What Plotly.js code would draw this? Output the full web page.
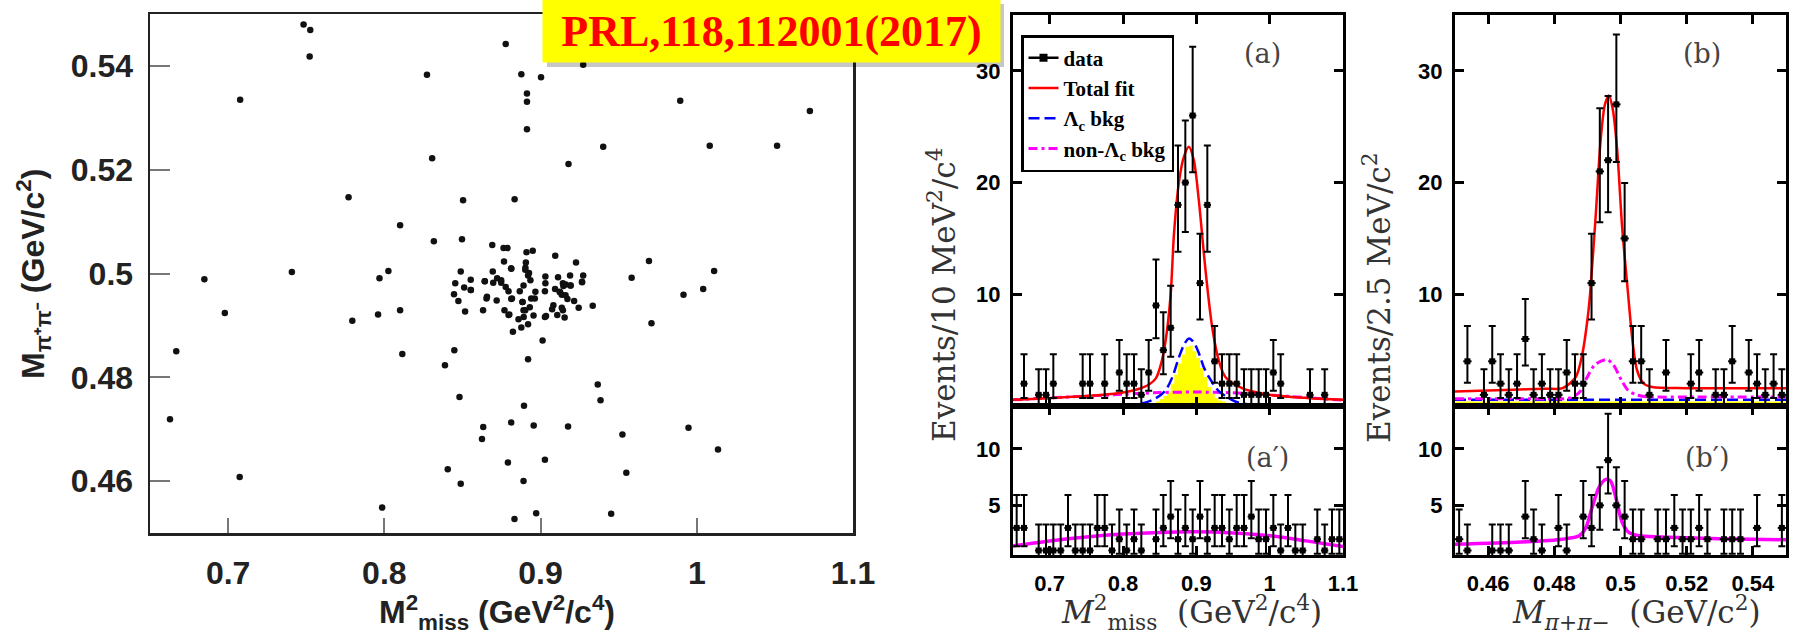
<!DOCTYPE html>
<html>
<head>
<meta charset="utf-8">
<script src="https://cdn.plot.ly/plotly-3.0.1.min.js"></script>
<style>
html,body{margin:0;padding:0;background:#fff;}
#chart{width:1793px;height:634px;}
</style>
</head>
<body>
<div id="chart"></div>
<script>
// ---------------- Left: scatter M2miss vs M(pi+pi-) ----------------
const scatterX = [0.7483,0.7526,0.7522,0.8777,0.8273,0.8877,0.9003,0.9273,0.7077,0.8913,0.8913,0.8913,0.9894,1.0724,0.8306,0.9401,1.0083,1.0514,0.9179,0.7771,0.8504,0.8834,0.8101,0.8317,0.8497,
0.8691,0.8763,0.8788,0.8910,0.8950,0.9094,0.9227,0.9694,0.8766,0.8906,0.8489,0.8694,0.8813,0.8902,0.8026,0.7408,0.7969,0.6848,1.0111,0.9583,0.9112,0.9273,0.8553,0.8643,0.8722,0.8748,0.8920,0.8935,0.9265,0.9161,
0.9146,0.9193,0.8454,0.8511,0.8553,0.8446,0.8697,0.8777,0.8795,0.8867,0.8967,0.9028,0.9093,0.9122,0.9136,0.9172,0.9915,1.0041,0.8654,0.8719,0.8812,0.8884,0.8963,0.8474,0.8517,0.8632,0.8769,0.8902,0.8931,0.9082,
0.9136,0.9215,0.9244,0.9334,0.8795,0.8892,0.9028,0.9107,0.9154,0.8859,0.8920,0.8877,0.8823,0.9013,0.8920,0.8101,0.7960,0.6979,0.7795,0.9710,0.6668,0.8448,0.8115,0.8388,0.9366,0.9384,0.8481,0.8894,0.6628,0.8812,
0.8956,0.9176,0.8633,0.8625,0.9947,0.9524,1.0136,0.9028,0.8791,0.8406,0.9549,0.7074,0.8891,0.8489,0.7986,0.8972,0.9452,0.8833,
0.8811,0.8903,0.8926,0.9031,0.9189,0.8643,0.8748,0.8891,0.9031,0.9143,0.9191,0.9266,0.8554,0.8657,0.8817,0.8885,0.8940,0.9125,0.9160,0.8891,0.8955,0.9074,0.9143,0.8800,0.9035];
const scatterY = [0.5480,0.5469,0.5418,0.5442,0.5383,0.5384,0.5378,0.5402,0.5335,0.5347,0.5331,0.5278,0.5333,0.5313,0.5222,0.5244,0.5246,0.5246,0.5211,0.5147,0.5141,0.5143,0.5093,0.5062,0.5066,
0.5055,0.5049,0.5049,0.5041,0.5044,0.5034,0.5021,0.5024,0.5023,0.5021,0.5004,0.5004,0.5009,0.5007,0.5005,0.5003,0.4991,0.4989,0.5005,0.4992,0.4993,0.4996,0.4988,0.4985,0.4991,0.4987,0.4996,0.4987,0.4984,0.4979,
0.4976,0.4977,0.4981,0.4973,0.4968,0.4960,0.4982,0.4974,0.4966,0.4966,0.4965,0.4966,0.4970,0.4965,0.4959,0.4951,0.4959,0.4970,0.4952,0.4948,0.4951,0.4945,0.4952,0.4947,0.4927,0.4929,0.4929,0.4929,0.4935,0.4939,
0.4934,0.4947,0.4934,0.4938,0.4920,0.4916,0.4916,0.4920,0.4915,0.4912,0.4902,0.4896,0.4888,0.4871,0.4835,0.4929,0.4921,0.4924,0.4909,0.4904,0.4850,0.4852,0.4845,0.4823,0.4786,0.4756,0.4762,0.4745,0.4719,0.4713,
0.4707,0.4705,0.4704,0.4681,0.4703,0.4690,0.4661,0.4641,0.4636,0.4623,0.4616,0.4608,0.4600,0.4595,0.4549,0.4538,0.4537,0.4527,
0.5010,0.5011,0.5001,0.4994,0.4996,0.4985,0.4982,0.4977,0.4981,0.4981,0.4977,0.4983,0.4968,0.4955,0.4952,0.4945,0.4952,0.4964,0.4958,0.4929,0.4919,0.4931,0.4929,0.4921,0.4918];

// ---------------- Histogram counts ----------------
// (a) M2miss, 10 MeV^2 bins from 0.65 to 1.10
const aBinLo = 0.65, aBinW = 0.01;
const aCounts      = [0,2,0,1,1,2,0,0,0,2,2,0,2,0,3,2,2,1,3,9,5,7,18,20,26,11,18,4,2,2,2,1,1,1,1,3,2,0,0,0,1,0,1,0,0];
const aPrimeCounts = [3,3,0,1,1,1,1,3,1,1,1,3,3,1,2,1,2,1,0,2,3,4,2,3,2,4,2,3,3,2,3,3,4,2,2,3,1,3,1,1,0,2,1,2,2];
// (b) M(pi+pi-), 2.5 MeV bins from 0.45 to 0.55
const bBinLo = 0.45, bBinW = 0.0025;
const bCounts      = [0,4,0,1,4,2,1,2,6,1,2,1,1,3,2,2,11,21,22,27,15,4,4,1,0,3,0,0,2,3,0,1,1,4,0,3,2,1,2,1];
const bPrimeCounts = [2,1,0,0,1,1,1,0,4,2,1,0,3,1,0,4,3,5,9,5,4,2,2,0,2,2,3,2,2,3,2,0,2,2,2,0,3,0,0,3];

// Poisson (Garwood 68.3%) interval table, index = count
const poissonLo = [0,0.173,0.708,1.367,2.086,2.840,3.620,4.419,5.232,6.057,6.891,7.734,8.585,9.441,10.30,11.17,12.04,12.92,13.80,14.68,15.57,16.45,17.35,18.24,19.14,20.03,20.93,21.84];
const poissonHi = [1.841,3.300,4.638,5.918,7.163,8.382,9.584,10.77,11.95,13.11,14.27,15.42,16.56,17.70,18.83,19.96,21.08,22.20,23.32,24.44,25.55,26.66,27.76,28.87,29.97,31.07,32.16,33.26];

// ---------------- Fit curves ----------------
const aTotalX = [0.65,0.69,0.73,0.77,0.80,0.82,0.835,0.845,0.852,0.858,0.865,0.8695,0.8762,0.883,0.8898,0.8966,0.9034,0.9102,0.916,0.9215,0.9305,0.9396,0.9622,0.98,1.0,1.03,1.06,1.1];
const aTotalY = [0.55,0.68,0.82,0.98,1.2,1.5,1.9,2.5,3.8,5.8,10,15.4,20,22.3,23.2,22,18.4,13.7,10,7.1,4.1,2.6,1.6,1.25,1.0,0.8,0.68,0.55];
const aLcX = [0.65,0.76,0.80,0.827,0.845,0.858,0.8674,0.8765,0.884,0.89,0.8966,0.9036,0.91,0.917,0.924,0.931,0.942,0.953,0.97,0.99,1.1];
const aLcY = [0.02,0.03,0.1,0.25,0.7,1.4,2.6,4.4,5.6,6.05,5.7,4.7,3.5,2.6,1.9,1.3,0.8,0.4,0.15,0.05,0.02];
const aNonX = [0.65,0.7,0.75,0.8,0.85,0.9,0.95,1.0,1.05,1.1];
const aNonY = [0.55,0.72,0.88,1.05,1.2,1.25,1.18,0.98,0.75,0.52];
const aMcX = [0.8375,0.8425,0.8475,0.8525,0.8575,0.8625,0.8675,0.8725,0.8775,0.8825,0.8875,0.8925,0.8975,0.9025,0.9075,0.9125,0.9175,0.9225,0.9275,0.9325,0.9375,0.9425,0.9475,0.9525,0.9575,0.9625,0.9675];
const aMcY = [0,0.2,0.4,0.6,0.9,1.2,2.0,2.8,3.8,4.6,5.3,5.4,4.9,4.3,3.4,2.6,1.7,1.1,0.7,0.5,0.4,0.3,0.25,0.2,0.15,0.1,0];
const apNonX = [0.65,0.7,0.75,0.8,0.85,0.9,0.95,1.0,1.05,1.1];
const apNonY = [1.4,1.85,2.2,2.45,2.6,2.65,2.55,2.3,1.85,1.35];

const bTotalX = [0.45,0.4675,0.4775,0.4825,0.4865,0.4885,0.490,0.4908,0.4925,0.494,0.4953,0.4965,0.4977,0.499,0.5005,0.5023,0.5036,0.505,0.507,0.5096,0.52,0.55];
const bTotalY = [1.3,1.45,1.55,1.6,2.6,4.7,7.7,10,17,23.8,27,27.8,26.5,22.9,16,10,5.9,3.2,2.0,1.7,1.6,1.6];
const bNonX = [0.45,0.47,0.485,0.4878,0.4898,0.4923,0.4959,0.4978,0.5003,0.5023,0.5048,0.5078,0.52,0.55];
const bNonY = [0.65,0.65,0.75,1.3,2.5,3.7,4.15,3.7,2.3,1.4,1.0,0.83,0.8,0.8];
const bLcX = [0.45,0.55];
const bLcY = [0.55,0.55];
const bMcX = [0.45,0.55];
const bMcY = [0.4,0.4];
const bpNonX = [0.45,0.47,0.4825,0.4875,0.4895,0.4915,0.4935,0.4955,0.497,0.4985,0.5005,0.5025,0.5055,0.5125,0.53,0.55];
const bpNonY = [1.55,1.75,2.0,2.3,3.0,4.9,6.6,7.3,7.15,5.8,3.5,2.6,2.3,2.2,2.05,1.95];

// ---------------- Helpers ----------------
function histTrace(counts, lo, w, xa, ya){
  const x=[], y=[], up=[], dn=[];
  counts.forEach((n,i)=>{
    if(n>0){ x.push(lo + w*(i+0.5)); y.push(n); up.push(poissonHi[n]-n); dn.push(n-poissonLo[n]); }
  });
  return {type:'scatter', mode:'markers', x, y, xaxis:xa, yaxis:ya, showlegend:false,
    marker:{symbol:'square', size:6, color:'black'},
    error_y:{type:'data', symmetric:false, array:up, arrayminus:dn, color:'black', thickness:2, width:3.5},
    error_x:{type:'constant', value:w/2, color:'black', thickness:2, width:0}, cliponaxis:false};
}
function curve(x,y,xa,ya,color,width,dash,extra){
  return Object.assign({type:'scatter', mode:'lines', x, y, xaxis:xa, yaxis:ya, showlegend:false,
    line:{color, width, dash, shape:'spline', smoothing:0.8}}, extra||{});
}
function mcFill(x,y,xa,ya){
  return {type:'scatter', mode:'lines', x, y, xaxis:xa, yaxis:ya, showlegend:false,
    fill:'tozeroy', fillcolor:'#ffff00', line:{width:0, shape:'hvh', color:'#ffff00'}};
}
const MAG = '#ff00ff', RED = '#ff0000', BLUE = '#0000ff';
const dashDot = '9px,4px,3px,4px';
const longDash = '11px,5px';

const traces = [
  {type:'scatter', mode:'markers', x:scatterX, y:scatterY, xaxis:'x', yaxis:'y', showlegend:false,
   marker:{size:6.5, color:'#111'}},
  // (a)
  mcFill(aMcX,aMcY,'x2','y2'),
  curve(aNonX,aNonY,'x2','y2',MAG,3,dashDot,{showlegend:true, name:'<b>non-Λ<sub>c</sub> bkg</b>', legendrank:4}),
  curve(aLcX,aLcY,'x2','y2',BLUE,2.5,longDash,{showlegend:true, name:'<b>Λ<sub>c</sub> bkg</b>', legendrank:3}),
  curve(aTotalX,aTotalY,'x2','y2',RED,2.5,'solid',{showlegend:true, name:'<b>Total fit</b>', legendrank:2}),
  histTrace(aCounts,aBinLo,aBinW,'x2','y2'),
  {type:'scatter', mode:'lines+markers', x:[null], y:[null], xaxis:'x2', yaxis:'y2', name:'<b>data</b>', legendrank:1,
   line:{color:'black', width:2.5}, marker:{symbol:'square', size:8, color:'black'}},
  // (a')
  curve(apNonX,apNonY,'x3','y3',MAG,3.5,'solid'),
  histTrace(aPrimeCounts,aBinLo,aBinW,'x3','y3'),
  // (b)
  mcFill(bMcX,bMcY,'x4','y4'),
  curve(bLcX,bLcY,'x4','y4',BLUE,2.5,longDash,{line:{color:BLUE,width:2.5,dash:longDash}}),
  curve(bNonX,bNonY,'x4','y4',MAG,3,dashDot),
  curve(bTotalX,bTotalY,'x4','y4',RED,2.5,'solid'),
  histTrace(bCounts,bBinLo,bBinW,'x4','y4'),
  // (b')
  curve(bpNonX,bpNonY,'x5','y5',MAG,3.5,'solid'),
  histTrace(bPrimeCounts,bBinLo,bBinW,'x5','y5')
];

// ---------------- Layout ----------------
const W=1793, H=634;
const px = v => v/W, py = v => 1 - v/H;
const sansBold = {family:'Liberation Sans, Arial, sans-serif', weight:'bold', color:'black'};
const serif = 'DejaVu Serif, serif';

function frameAxis(extra){
  return Object.assign({showgrid:false, zeroline:false, showline:true, linecolor:'black', linewidth:3,
    mirror:'ticks', ticks:'inside', ticklen:9, tickwidth:3, tickcolor:'black',
    tickfont:Object.assign({size:22}, sansBold)}, extra);
}
const midDom = [px(1013), px(1343)];
const rightDom = [px(1455), px(1786)];
const upDom = [py(406), py(15)];
const loDom = [py(555), py(406)];
const aTicks = [0.7,0.8,0.9,1.0,1.1];
const bTicks = [0.46,0.48,0.50,0.52,0.54];

const layout = {
  width:W, height:H, margin:{l:0,r:0,t:0,b:0},
  paper_bgcolor:'white', plot_bgcolor:'rgba(0,0,0,0)',
  xaxis:{domain:[px(150),px(853)], range:[0.65,1.1], anchor:'y', tickvals:aTicks,
    showgrid:false, zeroline:false, showline:true, mirror:true, linecolor:'#222', linewidth:2.5,
    ticks:'inside', ticklen:15, tickwidth:2, tickcolor:'#777', ticklabelstandoff:10,
    tickfont:{family:'Liberation Sans, Arial, sans-serif', weight:'bold', size:32, color:'#222'}},
  yaxis:{domain:[py(533),py(14)], range:[0.45,0.55], anchor:'x', tickvals:[0.46,0.48,0.50,0.52,0.54],
    showgrid:false, zeroline:false, showline:true, mirror:true, linecolor:'#222', linewidth:2.5,
    ticks:'inside', ticklen:20, tickwidth:2, tickcolor:'#777', ticklabelstandoff:8,
    tickfont:{family:'Liberation Sans, Arial, sans-serif', weight:'bold', size:32, color:'#222'}},
  xaxis2:frameAxis({domain:midDom, range:[0.65,1.1], anchor:'y2', tickvals:aTicks, showticklabels:false}),
  yaxis2:frameAxis({domain:upDom, range:[0,35], anchor:'x2', tickvals:[10,20,30], ticklabelstandoff:5}),
  xaxis3:frameAxis({domain:midDom, range:[0.65,1.1], anchor:'y3', tickvals:aTicks, ticktext:['0.7','0.8','0.9','1','1.1'], ticklabelstandoff:7}),
  yaxis3:frameAxis({domain:loDom, range:[0.6,13.8], anchor:'x3', tickvals:[5,10], ticklabelstandoff:5}),
  xaxis4:frameAxis({domain:rightDom, range:[0.45,0.55], anchor:'y4', tickvals:bTicks, showticklabels:false}),
  yaxis4:frameAxis({domain:upDom, range:[0,35], anchor:'x4', tickvals:[10,20,30], ticklabelstandoff:5}),
  xaxis5:frameAxis({domain:rightDom, range:[0.45,0.55], anchor:'y5', tickvals:bTicks, ticktext:['0.46','0.48','0.5','0.52','0.54'], ticklabelstandoff:7}),
  yaxis5:frameAxis({domain:loDom, range:[0.6,13.8], anchor:'x5', tickvals:[5,10], ticklabelstandoff:5}),
  showlegend:true,
  legend:{x:px(1021), y:py(35), xanchor:'left', yanchor:'top', bgcolor:'white',
    bordercolor:'black', borderwidth:2.5, itemwidth:30, traceorder:'normal', tracegroupgap:6,
    font:{family:'Liberation Serif, Times New Roman, serif', size:21, color:'black'}},
  shapes:[
    {type:'rect', xref:'paper', yref:'paper', x0:px(547), x1:px(1004), y0:py(67), y1:py(4),
     fillcolor:'rgba(0,0,0,0.22)', line:{width:0}, layer:'above'}
  ],
  annotations:[
    {text:'<b>PRL,118,112001(2017)</b>', xref:'paper', yref:'paper', x:px(771.5), y:py(31), xanchor:'center', yanchor:'middle',
     showarrow:false, bgcolor:'#ffff00', width:457, height:62, borderpad:0,
     font:{family:'Liberation Serif, Times New Roman, serif', size:44, color:'#ff0000'}},
    {text:'<b>M<sup>2</sup><sub>miss</sub> (GeV<sup>2</sup>/c<sup>4</sup>)</b>', xref:'paper', yref:'paper', x:px(497), y:py(612),
     xanchor:'center', yanchor:'middle', showarrow:false, font:{family:'Liberation Sans, Arial, sans-serif', size:32, color:'#222'}},
    {text:'<b>M<sub>π⁺π⁻</sub> (GeV/c<sup>2</sup>)</b>', xref:'paper', yref:'paper', x:px(33), y:py(274), textangle:-90,
     xanchor:'center', yanchor:'middle', showarrow:false, font:{family:'Liberation Sans, Arial, sans-serif', size:32, color:'#222'}},
    {text:'<i>M</i><sup>2</sup><sub>miss</sub>  (GeV<sup>2</sup>/c<sup>4</sup>)', xref:'paper', yref:'paper', x:px(1191), y:py(612),
     xanchor:'center', yanchor:'middle', showarrow:false, font:{family:serif, size:31, color:'#333'}},
    {text:'<i>M</i><sub><i>π</i>+<i>π</i>−</sub>  (GeV/c<sup>2</sup>)', xref:'paper', yref:'paper', x:px(1636), y:py(612),
     xanchor:'center', yanchor:'middle', showarrow:false, font:{family:serif, size:31, color:'#333'}},
    {text:'Events/10 MeV<sup>2</sup>/c<sup>4</sup>', xref:'paper', yref:'paper', x:px(942), y:py(295), textangle:-90,
     xanchor:'center', yanchor:'middle', showarrow:false, font:{family:serif, size:31, color:'#333'}},
    {text:'Events/2.5 MeV/c<sup>2</sup>', xref:'paper', yref:'paper', x:px(1377), y:py(298), textangle:-90,
     xanchor:'center', yanchor:'middle', showarrow:false, font:{family:serif, size:31, color:'#333'}},
    {text:'(a)', xref:'paper', yref:'paper', x:px(1262), y:py(53), xanchor:'center', yanchor:'middle', showarrow:false,
     font:{family:serif, size:27, color:'#444'}},
    {text:'(b)', xref:'paper', yref:'paper', x:px(1702), y:py(53), xanchor:'center', yanchor:'middle', showarrow:false,
     font:{family:serif, size:27, color:'#444'}},
    {text:'(a′)', xref:'paper', yref:'paper', x:px(1267), y:py(457), xanchor:'center', yanchor:'middle', showarrow:false,
     font:{family:serif, size:27, color:'#444'}},
    {text:'(b′)', xref:'paper', yref:'paper', x:px(1707), y:py(457), xanchor:'center', yanchor:'middle', showarrow:false,
     font:{family:serif, size:27, color:'#444'}}
  ]
};

Plotly.newPlot('chart', traces, layout, {staticPlot:true, displayModeBar:false});
</script>
</body>
</html>
